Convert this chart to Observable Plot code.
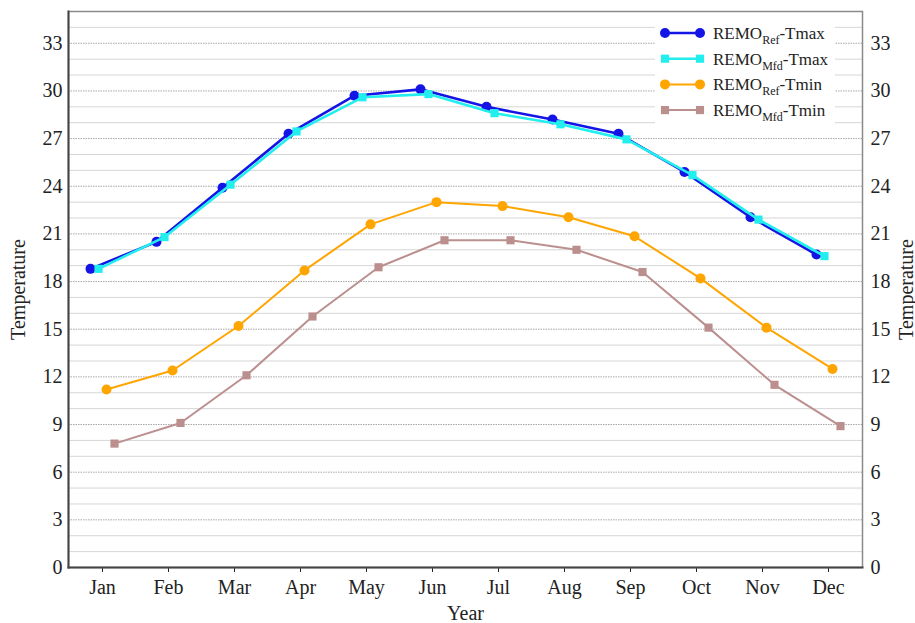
<!DOCTYPE html>
<html><head><meta charset="utf-8">
<script src="https://cdn.jsdelivr.net/npm/d3@7"></script>
<script src="https://cdn.jsdelivr.net/npm/@observablehq/plot@0.6"></script>
<style>
body{margin:0;background:#fff}
#chart{position:relative;width:915px;height:623px}
</style>
</head><body><div id="chart"></div>
<script>
const months = ["Jan","Feb","Mar","Apr","May","Jun","Jul","Aug","Sep","Oct","Nov","Dec"];
const refTmax = [18.8,20.5,23.9,27.3,29.7,30.1,29.0,28.2,27.3,24.9,22.05,19.7];
const mfdTmax = [18.8,20.8,24.1,27.45,29.6,29.8,28.6,27.9,26.95,24.7,21.9,19.6];
const refTmin = [11.2,12.4,15.2,18.7,21.6,23.0,22.75,22.05,20.85,18.2,15.1,12.5];
const mfdTmin = [7.8,9.1,12.1,15.8,18.9,20.6,20.6,20.0,18.6,15.1,11.5,8.9];
const yTicks = [0,3,6,9,12,15,18,21,24,27,30,33];
const yMinor = [1,2,4,5,7,8,10,11,13,14,16,17,19,20,22,23,25,26,28,29,31,32,34];

const series = [
  {sub:"Ref", var:"Tmax", values:refTmax, color:"#1414e6", symbol:"circle", dx:-12, sw:2.6, r:5},
  {sub:"Mfd", var:"Tmax", values:mfdTmax, color:"#22eeee", symbol:"square", dx:-4, sw:2.6, r:4.6},
  {sub:"Ref", var:"Tmin", values:refTmin, color:"#ffa500", symbol:"circle", dx:4, sw:2, r:5},
  {sub:"Mfd", var:"Tmin", values:mfdTmin, color:"#bc8f8f", symbol:"square", dx:12, sw:2, r:4.6}
];

const marks = [
  Plot.ruleY(yMinor, {stroke:"#d6d6d6", strokeWidth:1}),
  Plot.ruleY(yTicks.filter(d => d > 0), {stroke:"#a8a8a8", strokeWidth:1, strokeDasharray:"1.5,1"}),
  Plot.axisX({tickSize:5, tickPadding:7, label:"Year", labelAnchor:"center", labelOffset:52, labelArrow:"none"}),
  Plot.axisY({anchor:"left", ticks:yTicks, tickSize:0, tickPadding:6, label:"Temperature", labelAnchor:"center", labelOffset:58, labelArrow:"none"}),
  Plot.axisY({anchor:"right", ticks:yTicks, tickSize:0, tickPadding:8, label:"Temperature", labelAnchor:"center", labelOffset:50, labelArrow:"none"}),
];
for (const s of series) {
  const data = months.map((m, i) => ({month:m, value:s.values[i]}));
  marks.push(Plot.line(data, {x:"month", y:"value", dx:s.dx, stroke:s.color, strokeWidth:s.sw}));
  marks.push(Plot.dot(data, {x:"month", y:"value", dx:s.dx, symbol:s.symbol, fill:s.color, r:s.r}));
}
marks.push(Plot.frame({stroke:"#8a8a8a", strokeWidth:1.5}));
marks.push(Plot.frame({anchor:"left", stroke:"#444", strokeWidth:2}));
marks.push(Plot.frame({anchor:"bottom", stroke:"#444", strokeWidth:2}));

const chart = Plot.plot({
  width:915, height:623,
  marginLeft:68, marginRight:53, marginTop:11, marginBottom:56,
  style:{fontFamily:"'Liberation Serif', 'Times New Roman', serif", fontSize:"20px", color:"#222", background:"#fff"},
  x:{type:"point", domain:months, padding:0.5, label:null},
  y:{domain:[0,35], label:null},
  marks
});
document.getElementById("chart").appendChild(chart);

// legend
const svg = d3.select(chart);
const lg = svg.append("g").attr("class","legend").attr("text-anchor","start");
lg.append("rect").attr("x",655).attr("y",16).attr("width",180).attr("height",108).attr("fill","#fff");
series.forEach((s, i) => {
  const y = 33 + i*25.7;
  const g = lg.append("g").attr("transform", `translate(0,${y})`);
  g.append("line").attr("x1",665).attr("x2",700).attr("y1",0).attr("y2",0).attr("stroke",s.color).attr("stroke-width",s.sw);
  const sym = d3.symbol(s.symbol === "circle" ? d3.symbolCircle : d3.symbolSquare, s.r*s.r*Math.PI);
  [665,700].forEach(x => g.append("path").attr("d", sym()).attr("transform",`translate(${x},0)`).attr("fill",s.color));
  const t = g.append("text").attr("x",713).attr("y",6).attr("font-size",17).attr("fill","#222");
  t.append("tspan").text("REMO");
  t.append("tspan").attr("font-size",12).attr("dy",5).text(s.sub);
  t.append("tspan").attr("dy",-5).text("-" + s.var);
});
</script>
</body></html>
